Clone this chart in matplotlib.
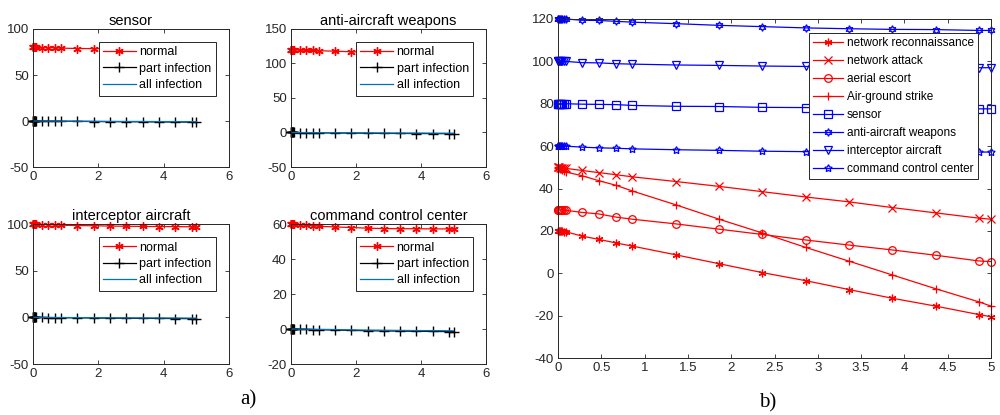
import matplotlib
matplotlib.use("Agg")
import matplotlib.pyplot as plt

plt.rcParams['font.family'] = ['Liberation Sans', 'DejaVu Sans']
plt.rcParams['axes.unicode_minus'] = False

# time points of the solver output
t = [0, 0.005, 0.01, 0.02, 0.03, 0.05, 0.07, 0.09, 0.28, 0.47, 0.67, 0.86,
     1.36, 1.86, 2.36, 2.86, 3.36, 3.86, 4.36, 4.86, 5.0]

# b) normal nodes
recon = [20, 20, 20, 19.9, 19.9, 19.8, 19.7, 19.6, 17.5, 16.0, 14.3, 12.8,
         8.7, 4.5, 0.3, -3.5, -7.7, -11.8, -15.5, -19.5, -20.5]
attack = [50, 50, 50, 49.9, 49.8, 49.7, 49.6, 49.5, 48.5, 47.5, 46.5, 45.5,
          43.3, 41.0, 38.5, 36.0, 33.7, 31.0, 28.5, 26.0, 25.5]
escort = [30, 30, 30, 29.9, 29.9, 29.8, 29.8, 29.7, 28.7, 28.0, 26.5, 25.5,
          23.3, 20.8, 18.3, 15.7, 13.3, 11.0, 8.5, 5.8, 5.5]
strike = [50, 49.9, 49.7, 49.4, 49.1, 48.6, 48.2, 47.8, 46.0, 43.7, 41.5, 38.8,
          32.3, 25.5, 19.0, 12.2, 5.7, -0.8, -7.3, -13.5, -15.5]
sensor = [80, 80, 80, 80, 80, 80, 80, 80, 79.8, 79.7, 79.6, 79.2,
          78.8, 78.7, 78.3, 78.2, 78.0, 77.9, 77.8, 77.6, 77.6]
antiair = [120, 120, 120, 120, 120, 120, 120, 120, 119.4, 119.3, 118.9, 118.5,
           117.8, 117.0, 116.4, 115.8, 115.4, 115.1, 115.0, 114.6, 114.6]
intercept = [100, 100, 100, 100, 100, 100, 100, 100, 99.4, 99.3, 98.9, 98.7,
             98.3, 98.1, 97.8, 97.6, 97.4, 97.3, 97.2, 97.0, 97.0]
command = [60, 60, 60, 60, 60, 60, 60, 60, 59.5, 59.2, 59.0, 58.7,
           58.3, 58.0, 57.6, 57.4, 57.3, 57.3, 57.2, 57.2, 57.2]

# a) infected nodes (small numbers near zero)
part_sensor = [0, 0, 0, 0, 0, 0, 0, 0, -0.1, -0.2, -0.2, -0.3,
               -0.4, -0.6, -0.7, -0.8, -0.9, -1.0, -1.1, -1.2, -1.2]
all_sensor = [0, 0, 0, 0, 0, 0, 0, 0, -0.05, -0.1, -0.1, -0.15,
              -0.2, -0.3, -0.4, -0.5, -0.5, -0.6, -0.6, -0.7, -0.7]
part_anti = [0, 0, 0, 0, 0, 0, 0, 0, -0.2, -0.3, -0.4, -0.5,
             -0.7, -0.9, -1.1, -1.3, -1.4, -1.5, -1.6, -1.7, -1.7]
all_anti = [0, 0, 0, 0, 0, 0, 0, 0, -0.1, -0.1, -0.2, -0.2,
            -0.3, -0.5, -0.6, -0.7, -0.8, -0.8, -0.9, -1.0, -1.0]
part_inter = [0, 0, 0, 0, 0, 0, 0, 0, -0.1, -0.2, -0.3, -0.4,
              -0.5, -0.7, -0.9, -1.0, -1.1, -1.2, -1.3, -1.4, -1.4]
all_inter = [0, 0, 0, 0, 0, 0, 0, 0, -0.05, -0.1, -0.15, -0.2,
             -0.3, -0.4, -0.5, -0.6, -0.6, -0.7, -0.7, -0.8, -0.8]
part_cmd = [0, 0, 0, 0, 0, 0, 0, 0, -0.1, -0.2, -0.3, -0.4,
            -0.6, -0.8, -1.0, -1.1, -1.2, -1.3, -1.4, -1.5, -1.5]
all_cmd = [0, 0, 0, 0, 0, 0, 0, 0, -0.05, -0.1, -0.15, -0.2,
           -0.3, -0.5, -0.6, -0.7, -0.8, -0.9, -0.9, -1.0, -1.0]

small_panels = [
    ("sensor", sensor, part_sensor, all_sensor, (-50, 100), [-50, 0, 50, 100]),
    ("anti-aircraft weapons", antiair, part_anti, all_anti, (-50, 150), [-50, 0, 50, 100, 150]),
    ("interceptor aircraft", intercept, part_inter, all_inter, (-50, 100), [-50, 0, 50, 100]),
    ("command control center", command, part_cmd, all_cmd, (-20, 60), [-20, 0, 20, 40, 60]),
]

# pixel boxes (x0, ytop, x1, ybottom) in a 1000x415 figure
boxes = [(33, 29, 229, 167), (291, 29, 486, 167),
         (33, 224, 229, 364), (291, 224, 486, 364)]
W, H = 1000, 415

AX_COL = (0.15, 0.15, 0.15)
ASTER = (6, 2, 0)


def style_axes(ax):
    ax.tick_params(direction='in', top=True, right=True, length=3, width=0.6,
                   labelsize=9.5, colors=AX_COL, pad=3)
    for s in ax.spines.values():
        s.set_color(AX_COL)
        s.set_linewidth(0.7)


def make_legend(ax, anchor, fs=8.5, spacing=0.4):
    leg = ax.legend(loc='upper right', bbox_to_anchor=anchor, fontsize=fs,
                    frameon=True, fancybox=False, framealpha=1,
                    handlelength=2.6, handletextpad=0.3, labelspacing=spacing,
                    borderpad=0.35, borderaxespad=0)
    leg.get_frame().set_edgecolor(AX_COL)
    leg.get_frame().set_linewidth(0.7)
    leg.set_zorder(10)
    return leg


fig = plt.figure(figsize=(10, 4.15), dpi=100)

for (title, normal, part, allinf, ylim, yticks), (x0, y0, x1, y1) in zip(small_panels, boxes):
    ax = fig.add_axes([x0 / W, 1 - y1 / H, (x1 - x0) / W, (y1 - y0) / H])
    ax.plot(t, normal, color='red', marker=ASTER, markersize=6, lw=0.9,
            label='normal', clip_on=False)
    ax.plot(t, part, color='black', marker='+', markersize=7, lw=0.9,
            label='part infection', clip_on=False)
    ax.plot(t, allinf, color=(0, 0.447, 0.741), lw=0.9, label='all infection')
    ax.set_xlim(0, 6)
    ax.set_ylim(*ylim)
    ax.set_xticks([0, 2, 4, 6])
    ax.set_yticks(yticks)
    ax.set_title(title, fontsize=10.5, pad=3)
    style_axes(ax)
    make_legend(ax, (0.934, 0.905), fs=9, spacing=0.35)

# right panel
ax = fig.add_axes([558 / W, 1 - 358 / H, (991 - 558) / W, (358 - 19) / H])
right_series = [
    (recon, 'red', ASTER, 'network reconnaissance'),
    (attack, 'red', 'x', 'network attack'),
    (escort, 'red', 'o', 'aerial escort'),
    (strike, 'red', '+', 'Air-ground strike'),
    (sensor, 'blue', 's', 'sensor'),
    (antiair, 'blue', (6, 1, 0), 'anti-aircraft weapons'),
    (intercept, 'blue', 'v', 'interceptor aircraft'),
    (command, 'blue', (5, 1, 0), 'command control center'),
]
for vals, col, mk, lab in right_series:
    ax.plot(t, vals, color=col, marker=mk, markersize=5.5, lw=0.9,
            markerfacecolor='none', markeredgewidth=0.9, label=lab, clip_on=False)
ax.set_xlim(0, 5)
ax.set_ylim(-40, 120)
ax.set_xticks([0, 0.5, 1, 1.5, 2, 2.5, 3, 3.5, 4, 4.5, 5])
ax.set_xticklabels(['0', '0.5', '1', '1.5', '2', '2.5', '3', '3.5', '4', '4.5', '5'])
ax.set_yticks([-40, -20, 0, 20, 40, 60, 80, 100, 120])
style_axes(ax)
make_legend(ax, (0.970, 0.958), spacing=0.5)

fig.text(248 / W, 1 - 400 / H, 'a)', family='Liberation Serif', fontsize=15,
         ha='center', va='center')
fig.text(768 / W, 1 - 403 / H, 'b)', family='Liberation Serif', fontsize=15,
         ha='center', va='center')

fig.savefig('out.png', dpi=100)
